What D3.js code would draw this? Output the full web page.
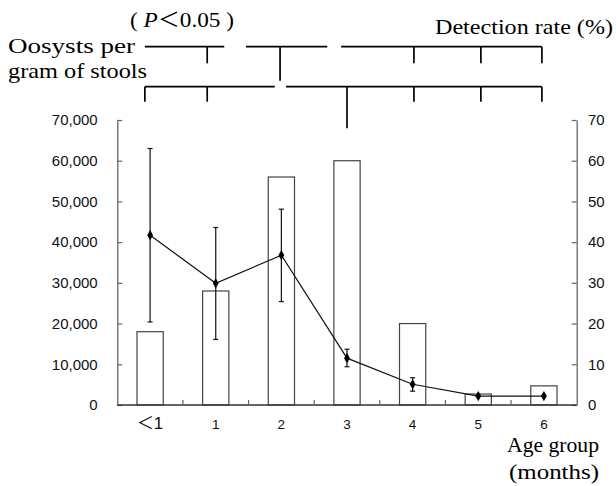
<!DOCTYPE html>
<html>
<head>
<meta charset="utf-8">
<script src="https://cdn.jsdelivr.net/npm/d3@7"></script>
<style>
  html, body { margin: 0; padding: 0; background: #fff; }
  svg { display: block; }
</style>
</head>
<body>
<div id="chart"></div>
<script>
// Oocyst counts (bars, left axis) and detection rate (line, right axis) by age group
const categories = ['＜1', '1', '2', '3', '4', '5', '6'];
const oocysts = [18000, 28000, 56000, 60000, 20000, 2700, 4700];
const detectionRate = [41.7, 29.9, 36.8, 11.5, 5.1, 2.2, 2.2];
const rateLow = [20.4, 16.1, 25.4, 9.4, 3.4, null, null];
const rateHigh = [63.0, 43.6, 48.1, 13.7, 6.7, null, null];
const leftTicks = [0, 10000, 20000, 30000, 40000, 50000, 60000, 70000];
const rightTicks = [0, 10, 20, 30, 40, 50, 60, 70];

// significance brackets, positions in age-group index units
const bracketRow1 = [
  { from: -0.08, to: 1.13, ticks: [0.87], long: [] },
  { from: 1.46, to: 2.70, ticks: [], long: [1.98] },
  { from: 2.91, to: 5.97, ticks: [4.02, 5.04, 5.97], long: [] }
];
const bracketRow2 = [
  { from: -0.08, to: 1.90, ticks: [-0.08, 0.87], long: [] },
  { from: 2.07, to: 5.97, ticks: [4.02, 5.04, 5.97], long: [3.0] }
];

const W = 616, H = 486;
const plotL = 117.3, plotR = 576.7, plotT = 120, plotB = 405;

const svg = d3.select('#chart').append('svg')
  .attr('width', W)
  .attr('height', H);

const x = d3.scaleBand()
  .domain(categories)
  .range([plotL, plotR])
  .paddingInner(0)
  .paddingOuter(0);

const xi = d3.scaleLinear()
  .domain([0, 6])
  .range([x(categories[0]) + x.bandwidth() / 2, x(categories[6]) + x.bandwidth() / 2]);

const yL = d3.scaleLinear().domain([0, 70000]).range([plotB, plotT]);
const yR = d3.scaleLinear().domain([0, 70]).range([plotB, plotT]);

const sans = 'Liberation Sans, Arial, "Noto Sans CJK JP", sans-serif';
const serif = 'Liberation Serif, Times New Roman, serif';
const axisColor = '#666';

// Bars
const barW = x.bandwidth() * 0.4;
svg.append('g')
  .selectAll('rect')
  .data(oocysts)
  .join('rect')
  .attr('x', (d, i) => x(categories[i]) + (x.bandwidth() - barW) / 2)
  .attr('y', d => yL(d))
  .attr('width', barW)
  .attr('height', d => plotB - yL(d))
  .attr('fill', '#fff')
  .attr('stroke', '#444')
  .attr('stroke-width', 1.2);

// Left axis
const axL = svg.append('g')
  .attr('transform', `translate(${plotL},0)`)
  .call(d3.axisLeft(yL).tickValues(leftTicks).tickFormat(d3.format(','))
    .tickSizeInner(-5).tickSizeOuter(0).tickPadding(19.6));
axL.select('.domain').attr('stroke', axisColor).attr('stroke-width', 1.3);
axL.selectAll('.tick line').attr('stroke', axisColor).attr('stroke-width', 1.2);
axL.selectAll('text').attr('font-family', sans).attr('font-size', 15).attr('fill', '#111');

// Right axis
const axR = svg.append('g')
  .attr('transform', `translate(${plotR},0)`)
  .call(d3.axisRight(yR).tickValues(rightTicks)
    .tickSizeInner(-5).tickSizeOuter(0).tickPadding(11.3));
axR.select('.domain').attr('stroke', axisColor).attr('stroke-width', 1.3);
axR.selectAll('.tick line').attr('stroke', axisColor).attr('stroke-width', 1.2);
axR.selectAll('text').attr('font-family', sans).attr('font-size', 15).attr('fill', '#111');

// Bottom axis: line, ticks at group boundaries, labels at centres
svg.append('line')
  .attr('x1', plotL).attr('x2', plotR)
  .attr('y1', plotB).attr('y2', plotB)
  .attr('stroke', '#333')
  .attr('stroke-width', 1.5);

svg.append('g')
  .selectAll('line')
  .data(categories.slice(1))
  .join('line')
  .attr('x1', d => x(d)).attr('x2', d => x(d))
  .attr('y1', plotB).attr('y2', plotB - 5)
  .attr('stroke', axisColor)
  .attr('stroke-width', 1.2);

svg.append('g')
  .selectAll('text')
  .data(categories)
  .join('text')
  .attr('x', d => x(d) + x.bandwidth() / 2)
  .attr('y', 429)
  .attr('text-anchor', 'middle')
  .attr('font-family', sans)
  .attr('font-size', (d, i) => i === 0 ? 17 : 13.5)
  .attr('fill', '#111')
  .text(d => d);

// Error bars
const errIdx = d3.range(categories.length).filter(i => rateLow[i] != null);
const err = svg.append('g').attr('stroke', '#111').attr('stroke-width', 1.2);
errIdx.forEach(i => {
  const cx = xi(i);
  err.append('line').attr('x1', cx).attr('x2', cx).attr('y1', yR(rateLow[i])).attr('y2', yR(rateHigh[i]));
  err.append('line').attr('x1', cx - 2.5).attr('x2', cx + 2.5).attr('y1', yR(rateLow[i])).attr('y2', yR(rateLow[i]));
  err.append('line').attr('x1', cx - 2.5).attr('x2', cx + 2.5).attr('y1', yR(rateHigh[i])).attr('y2', yR(rateHigh[i]));
});

// Detection-rate line
const line = d3.line()
  .x((d, i) => xi(i))
  .y(d => yR(d));

svg.append('path')
  .datum(detectionRate)
  .attr('d', line)
  .attr('fill', 'none')
  .attr('stroke', '#111')
  .attr('stroke-width', 1.2);

svg.append('g')
  .selectAll('path')
  .data(detectionRate)
  .join('path')
  .attr('d', d3.symbol().type(d3.symbolDiamond).size(30))
  .attr('transform', (d, i) => `translate(${xi(i)},${yR(d)})`)
  .attr('fill', '#000');

// Significance brackets
function drawRow(rows, y, shortLen, longLen) {
  const g = svg.append('g').attr('stroke', '#000').attr('stroke-width', 1.7).attr('fill', 'none');
  rows.forEach(r => {
    g.append('line').attr('x1', xi(r.from)).attr('x2', xi(r.to)).attr('y1', y).attr('y2', y);
    r.ticks.forEach(t => {
      g.append('line').attr('x1', xi(t)).attr('x2', xi(t)).attr('y1', y).attr('y2', y + shortLen);
    });
    r.long.forEach(t => {
      g.append('line').attr('x1', xi(t)).attr('x2', xi(t)).attr('y1', y).attr('y2', y + longLen);
    });
  });
}
drawRow(bracketRow1, 46.7, 16.6, 34);
drawRow(bracketRow2, 86.7, 15, 41.6);

// Titles
function label(txt, x0, y0, len) {
  return svg.append('text')
    .attr('x', x0).attr('y', y0)
    .attr('font-family', serif)
    .attr('font-size', 22)
    .attr('fill', '#000')
    .attr('textLength', len)
    .attr('lengthAdjust', 'spacingAndGlyphs')
    .text(txt);
}
label('Oosysts per', 8, 53, 127);
label('gram of stools', 8, 78, 139);
label('Detection rate (%)', 435, 34, 178);
label('Age group', 507, 452, 92);
label('(months)', 509, 479, 90);

const pv = svg.append('text')
  .attr('x', 130).attr('y', 27)
  .attr('font-family', serif)
  .attr('font-size', 21)
  .attr('fill', '#000')
  .attr('textLength', 104)
  .attr('lengthAdjust', 'spacingAndGlyphs');
pv.append('tspan').text('( ');
pv.append('tspan').attr('font-style', 'italic').text('P');
pv.append('tspan').attr('font-family', '"Noto Sans CJK JP", sans-serif').attr('font-size', 20).text('＜');
pv.append('tspan').text('0.05 )');
</script>
</body>
</html>
